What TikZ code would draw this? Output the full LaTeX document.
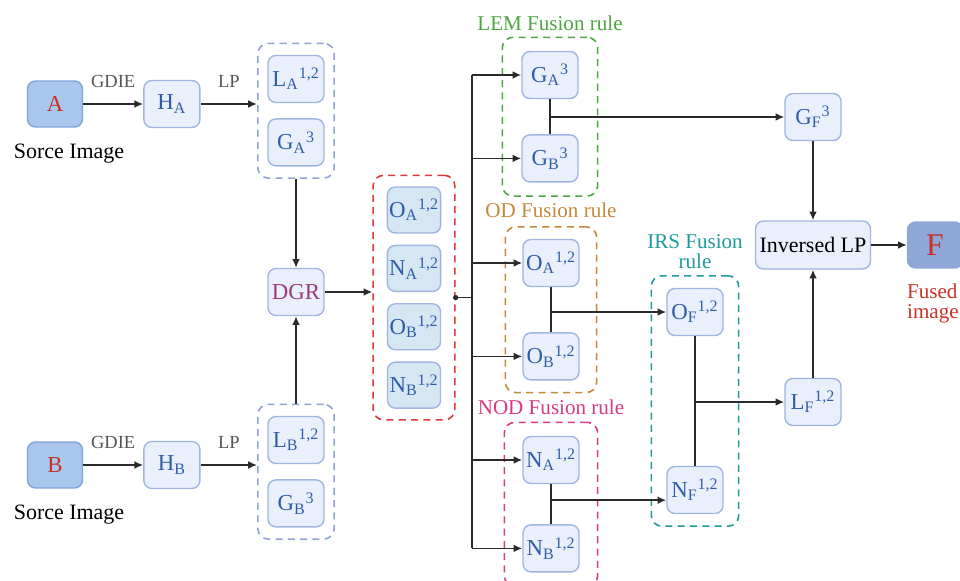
\documentclass[tikz,border=0pt]{standalone}
\usepackage{fontspec}
\setmainfont{Liberation Serif}
\usepackage{tikz}
\usetikzlibrary{arrows.meta, positioning, fit, calc}
\usepackage{xcolor}

\definecolor{boxfill}{HTML}{EAF0FB}
\definecolor{boxline}{HTML}{9FB5E2}
\definecolor{cellfill}{HTML}{D4E7F2}
\definecolor{srcfill}{HTML}{A9C7EC}
\definecolor{srcline}{HTML}{7FA2D8}
\definecolor{outfill}{HTML}{8FA7D7}
\definecolor{symblue}{HTML}{2F5DA9}
\definecolor{imgred}{HTML}{C8322B}
\definecolor{grpblue}{HTML}{8FA3D6}
\definecolor{grpred}{HTML}{E0393B}
\definecolor{lemgreen}{HTML}{4FA443}
\definecolor{odorange}{HTML}{C6893B}
\definecolor{nodpink}{HTML}{D93A80}
\definecolor{irsteal}{HTML}{1E9A9C}
\definecolor{dgrpurple}{HTML}{9A3C7A}
\definecolor{labelgray}{HTML}{555555}
\definecolor{wire}{HTML}{2A2A2A}

\begin{document}
\begin{tikzpicture}[
    x=0.02cm, y=-0.02cm,
    every node/.style={font=\fontsize{13}{15}\selectfont},
    block/.style={
        rectangle,
        rounded corners=4.5pt,
        draw=boxline,
        line width=0.8pt,
        fill=boxfill,
        text=symblue,
        inner sep=1pt,
        minimum width=1.12cm,
        minimum height=0.94cm
    },
    cell/.style={
        block,
        fill=cellfill,
        minimum width=1.06cm,
        minimum height=0.92cm
    },
    source/.style={
        block,
        fill=srcfill,
        draw=srcline,
        text=imgred,
        minimum width=1.1cm,
        minimum height=0.92cm
    },
    dashgroup/.style={
        rectangle,
        rounded corners=6pt,
        dash pattern=on 4pt off 3pt,
        line width=0.9pt
    },
    tag/.style={
        font=\fontsize{10.5}{12}\selectfont,
        text=labelgray
    },
    rulename/.style={
        font=\fontsize{12}{11.5}\selectfont,
        align=center
    },
    caption/.style={
        font=\fontsize{12.5}{14}\selectfont
    },
    line/.style={
        draw=wire,
        line width=1pt
    },
    arrow/.style={
        -{Latex[length=5pt,width=4.5pt]},
        draw=wire,
        line width=1pt
    }
]

\useasboundingbox (0,0) rectangle (960,581);
\clip (0,0) rectangle (960,581);

% Entradas
\node[source] (srca) at (55,104) {A};
\node[caption, below=0.2cm of srca, xshift=0.28cm] (capa) {Sorce Image};
\node[block, right=1.2cm of srca] (ha) {H\textsubscript{A}};

\node[source] (srcb) at (55,465) {B};
\node[caption, below=0.2cm of srcb, xshift=0.28cm] (capb) {Sorce Image};
\node[block, right=1.2cm of srcb] (hb) {H\textsubscript{B}};

% Piramides
\node[block] (la) at (296,79) {L\textsubscript{A}\textsuperscript{1,2}};
\node[block, below=0.3cm of la] (ga) {G\textsubscript{A}\textsuperscript{3}};
\node[dashgroup, draw=grpblue, fit=(la)(ga), inner xsep=0.19cm, inner ysep=0.23cm] (grpa) {};

\node[block] (lb) at (296,440) {L\textsubscript{B}\textsuperscript{1,2}};
\node[block, below=0.3cm of lb] (gb) {G\textsubscript{B}\textsuperscript{3}};
\node[dashgroup, draw=grpblue, fit=(lb)(gb), inner xsep=0.19cm, inner ysep=0.23cm] (grpb) {};

\node[block, text=dgrpurple] (dgr) at (296,292) {DGR};

% Descomposicion DGR
\node[cell] (oa) at (414,210) {O\textsubscript{A}\textsuperscript{1,2}};
\node[cell, below=0.22cm of oa] (na) {N\textsubscript{A}\textsuperscript{1,2}};
\node[cell, below=0.22cm of na] (ob) {O\textsubscript{B}\textsuperscript{1,2}};
\node[cell, below=0.22cm of ob] (nb) {N\textsubscript{B}\textsuperscript{1,2}};
\node[dashgroup, draw=grpred, fit=(oa)(nb), inner xsep=0.27cm, inner ysep=0.22cm] (grpr) {};

% Reglas de fusion
\node[block] (lemga) at (550,75) {G\textsubscript{A}\textsuperscript{3}};
\node[block, below=0.7cm of lemga] (lemgb) {G\textsubscript{B}\textsuperscript{3}};
\node[dashgroup, draw=lemgreen, fit=(lemga)(lemgb), inner xsep=0.38cm, inner ysep=0.27cm] (lem) {};
\node[rulename, text=lemgreen, above=0pt of lem] (lemname) {LEM Fusion rule};

\node[block] (odoa) at (551,263) {O\textsubscript{A}\textsuperscript{1,2}};
\node[block, below=0.9cm of odoa] (odob) {O\textsubscript{B}\textsuperscript{1,2}};
\node[dashgroup, draw=odorange, fit=(odoa)(odob), inner xsep=0.34cm, inner ysep=0.24cm] (od) {};
\node[rulename, text=odorange, above=0.04cm of od] (odname) {OD Fusion rule};

\node[block] (nodna) at (551,460) {N\textsubscript{A}\textsuperscript{1,2}};
\node[block, below=0.8cm of nodna] (nodnb) {N\textsubscript{B}\textsuperscript{1,2}};
\node[dashgroup, draw=nodpink, fit=(nodna)(nodnb), inner xsep=0.36cm, inner ysep=0.27cm] (nod) {};
\node[rulename, text=nodpink, above=0.02cm of nod] (nodname) {NOD Fusion rule};

\node[block] (irso) at (695,312) {O\textsubscript{F}\textsuperscript{1,2}};
\node[block] (irsn) at (695,490) {N\textsubscript{F}\textsuperscript{1,2}};
\node[dashgroup, draw=irsteal, fit=(irso)(irsn), inner xsep=0.3cm, inner ysep=0.24cm] (irs) {};
\node[rulename, text=irsteal, above=0pt of irs] (irsname) {IRS Fusion\\rule};

% Reconstruccion
\node[block] (gf) at (813,117) {G\textsubscript{F}\textsuperscript{3}};
\node[block] (lf) at (813,402) {L\textsubscript{F}\textsuperscript{1,2}};
\node[block, text=black, font=\fontsize{12.5}{14}\selectfont, minimum width=2.3cm, minimum height=0.96cm] (inv) at (813,245) {Inversed LP};
\node[source, fill=outfill, draw=outfill, font=\fontsize{18}{18}\selectfont] (fimg) at (935,245) {F};
\node[rulename, text=imgred, align=left, inner xsep=0pt, below right=0.18cm and 0cm of fimg.south west] (fused) {Fused\\image};

% Flechas de entrada
\draw[arrow] (srca) -- node[tag, above=0.2cm] {GDIE} (ha);
\draw[arrow] (ha.east) -- node[tag, above=0.2cm] {LP} (ha.east -| grpa.west);
\draw[arrow] (srcb) -- node[tag, above=0.2cm] {GDIE} (hb);
\draw[arrow] (hb.east) -- node[tag, above=0.2cm] {LP} (hb.east -| grpb.west);

\draw[arrow] (grpa.south) -- (dgr.north);
\draw[arrow] (grpb.north) -- (dgr.south);
\draw[arrow] (dgr.east) -- (dgr.east -| grpr.west);

% Reparto hacia las reglas
\coordinate[right=0.32cm of grpr.east] (trunk);
\fill[wire] (grpr.east) circle (1.5pt);
\draw[line] (grpr.east) -- (trunk);
\draw[line] (trunk |- lemga.west) -- (trunk |- nodnb.west);

\draw[arrow] (trunk |- lemga.west) -- (lemga.west);
\draw[arrow] (trunk |- lemgb.west) -- (lemgb.west);
\draw[arrow] (trunk |- odoa.west) -- (odoa.west);
\draw[arrow] (trunk |- odob.west) -- (odob.west);
\draw[arrow] (trunk |- nodna.west) -- (nodna.west);
\draw[arrow] (trunk |- nodnb.west) -- (nodnb.west);

% Uniones dentro de cada regla
\draw[line] (lemga.south) -- (lemgb.north);
\draw[arrow] (lemga.south |- gf.west) -- (gf.west);

\draw[line] (odoa.south) -- (odob.north);
\draw[arrow] (odoa.south |- irso.west) -- (irso.west);

\draw[line] (nodna.south) -- (nodnb.north);
\coordinate (jn) at ($(nodna.south)!0.4!(nodnb.north)$);
\draw[arrow] (jn) -- (jn -| irsn.west);

\draw[line] (irso.south) -- (irsn.north);
\draw[arrow] (irso.south |- lf.west) -- (lf.west);

% Salida
\draw[arrow] (gf) -- (inv);
\draw[arrow] (lf) -- (inv);
\draw[arrow] (inv) -- (fimg);

\end{tikzpicture}
\end{document}
